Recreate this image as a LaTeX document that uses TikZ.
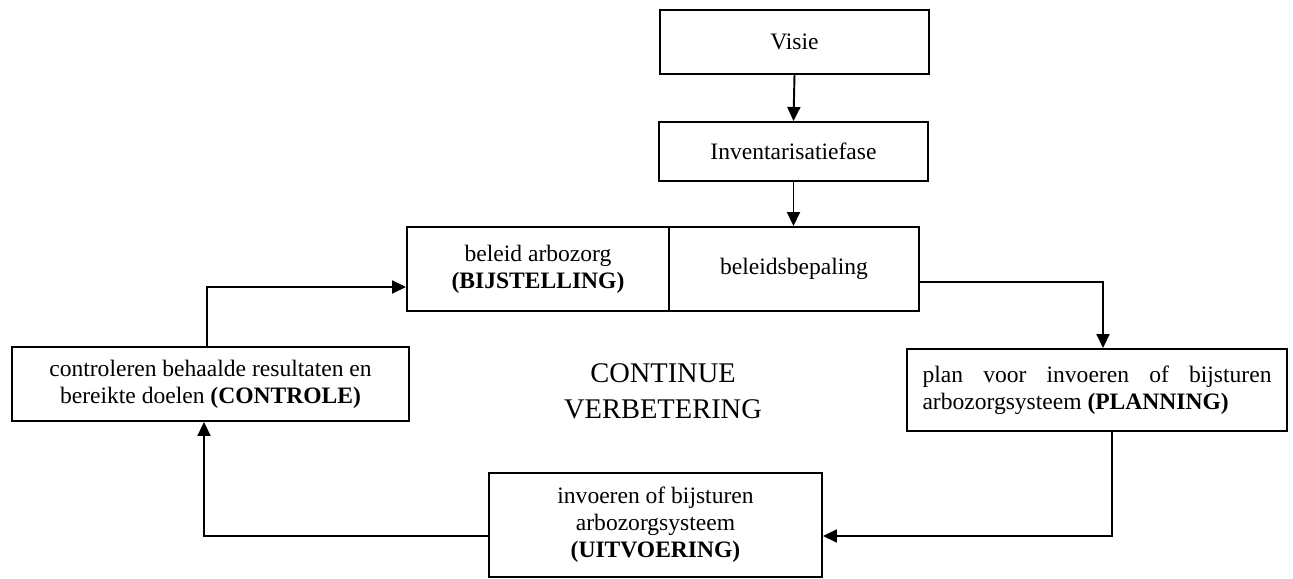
\documentclass[tikz,border=0pt]{standalone}
\usepackage{fontspec}
\setmainfont{Liberation Serif}
\usepackage{tikz}
\usetikzlibrary{positioning,arrows.meta,calc}

\begin{document}
\begin{tikzpicture}[
 fase/.style={rectangle,draw=black,line width=1.1pt,inner sep=0pt,align=center,
   font=\fontsize{13.4}{15.4}\selectfont},
 flow/.style={line width=1.1pt,-{Triangle[length=0.28cm,width=0.26cm]}},
 kern/.style={font=\fontsize{16.2}{20.5}\selectfont,align=center}]
\useasboundingbox (0,0) rectangle (25.86,11.58);

% Top chain: vision and inventory.
\node[fase,minimum width=5.38cm,minimum height=1.28cm] (visie) at (15.89,10.74) {Visie};
\node[fase,minimum width=5.38cm,minimum height=1.18cm] (inv) at (15.87,8.55) {Inventarisatiefase};

% Policy block, two halves sharing one edge.
\node[fase,minimum width=5.24cm,minimum height=1.68cm] (bij) at (10.76,6.2) {beleid arbozorg\\\textbf{(BIJSTELLING)}};
\node[fase,minimum width=5.0cm,minimum height=1.68cm] (bep) at (15.88,6.2) {beleidsbepaling};

% The cycle.
\node[fase,minimum width=7.6cm,minimum height=1.64cm,text width=6.98cm,align=justify,inner xsep=0.31cm] (plan) at (21.94,3.78)
  {\hyphenpenalty=10000 plan voor invoeren of bijsturen \mbox{arbozorgsysteem} \textbf{(PLANNING)}};
\node[fase,minimum width=6.66cm,minimum height=2.08cm] (uit) at (13.11,1.08) {invoeren of bijsturen\\arbozorgsysteem\\\textbf{(UITVOERING)}};
\node[fase,minimum width=7.94cm,minimum height=1.48cm] (ctl) at (4.21,3.9) {controleren behaalde resultaten en\\bereikte doelen \textbf{(CONTROLE)}};
\node[kern] (cv) at (13.26,3.75) {CONTINUE\\VERBETERING};

% Connectors
\draw[flow] (visie.south) -- (inv.north);
\draw[flow] (inv.south) -- (inv.south |- bep.north);
\draw[flow] ([yshift=-0.26cm]bep.east) -| ([xshift=0.12cm]plan.north);
\draw[flow] ([xshift=0.3cm]plan.south) |- ([yshift=-0.22cm]uit.east);
\draw[flow] ([yshift=-0.22cm]uit.west) -| ([xshift=-0.13cm]ctl.south);
\draw[flow] ([xshift=-0.07cm]ctl.north) |- ([yshift=-0.36cm]bij.west);
\end{tikzpicture}
\end{document}
